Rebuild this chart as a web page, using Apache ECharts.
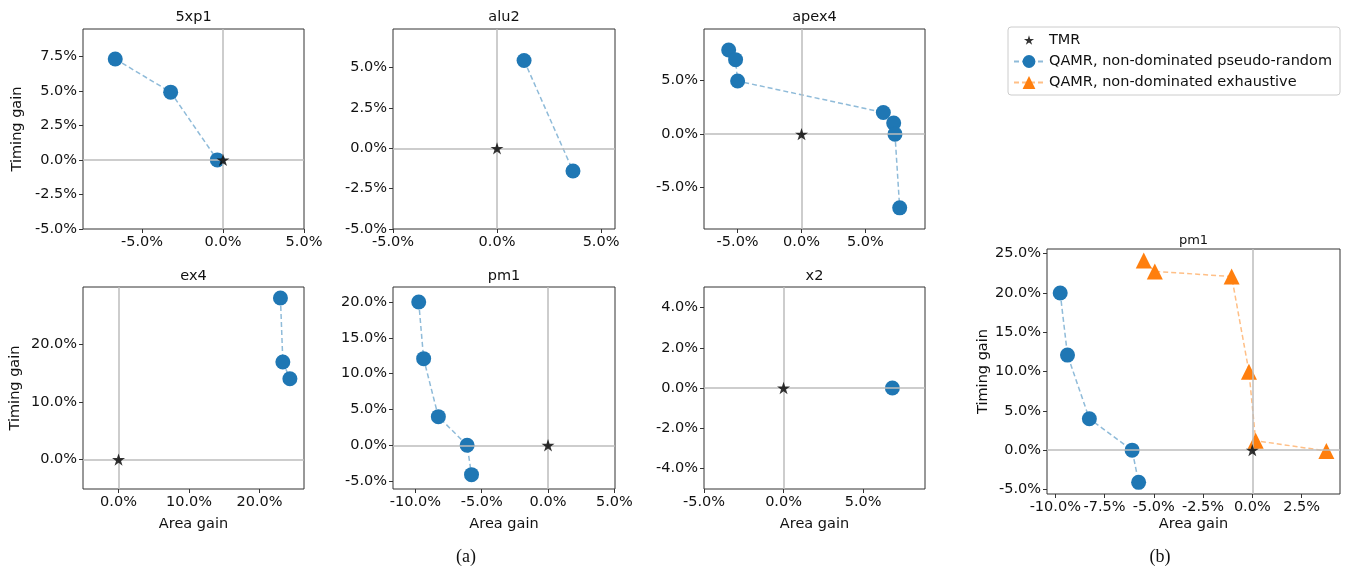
<!DOCTYPE html>
<html>
<head>
<meta charset="utf-8">
<script src="https://cdn.jsdelivr.net/npm/echarts@6/dist/echarts.min.js"></script>
<style>
html,body{margin:0;padding:0;background:#fff;}
#chart{width:1357px;height:571px;}
</style>
</head>
<body>
<div id="chart"></div>
<script>
// ---- Data (percent) ----
const area_5xp1 = [-6.65, -3.23, -0.35];
const timing_5xp1 = [7.3, 4.9, 0.0];
const area_alu2 = [1.3, 3.65];
const timing_alu2 = [5.45, -1.4];
const area_apex4 = [-5.7, -5.16, -5.0, 6.4, 7.21, 7.31, 7.68];
const timing_apex4 = [7.87, 6.97, 4.97, 2.03, 1.03, 0.0, -6.9];
const area_ex4 = [22.96, 23.3, 24.3];
const timing_ex4 = [28.0, 16.9, 14.0];
const area_pm1 = [-9.75, -9.38, -8.27, -6.1, -5.77];
const timing_pm1 = [20.0, 12.1, 4.0, 0.0, -4.1];
const area_x2 = [6.84];
const timing_x2 = [0.0];
const area_pm1_exh = [-5.51, -4.95, -1.05, -0.17, 0.17, 3.76];
const timing_pm1_exh = [24.15, 22.75, 22.1, 9.97, 1.2, -0.1];
const tmr_area = [0];
const tmr_timing = [0];

// ---- Tick labels ----
const xticks_5xp1 = [-5, 0, 5];
const yticks_5xp1 = [-5, -2.5, 0, 2.5, 5, 7.5];
const xticks_alu2 = [-5, 0, 5];
const yticks_alu2 = [-5, -2.5, 0, 2.5, 5];
const xticks_apex4 = [-5, 0, 5];
const yticks_apex4 = [-5, 0, 5];
const xticks_ex4 = [0, 10, 20];
const yticks_ex4 = [0, 10, 20];
const xticks_pm1 = [-10, -5, 0, 5];
const yticks_pm1 = [-5, 0, 5, 10, 15, 20];
const xticks_x2 = [-5, 0, 5];
const yticks_x2 = [-4, -2, 0, 2, 4];
const xticks_pm1b = [-10, -7.5, -5, -2.5, 0, 2.5];
const yticks_pm1b = [-5, 0, 5, 10, 15, 20, 25];

const NAME_TMR = 'TMR';
const NAME_RAND = 'QAMR, non-dominated pseudo-random';
const NAME_EXH = 'QAMR, non-dominated exhaustive';

const panels = [
  {title:'5xp1', area:area_5xp1, timing:timing_5xp1, xt:xticks_5xp1, yt:yticks_5xp1,
   grid:{left:83,top:29,width:221,height:200}, x:[-8.64,5], y:[-5,9.47], yName:58, xName:null, ty:17},
  {title:'alu2', area:area_alu2, timing:timing_alu2, xt:xticks_alu2, yt:yticks_alu2,
   grid:{left:393,top:29,width:222,height:200}, x:[-5,5.67], y:[-5,7.4], yName:null, xName:null, ty:17},
  {title:'apex4', area:area_apex4, timing:timing_apex4, xt:xticks_apex4, yt:yticks_apex4,
   grid:{left:704,top:29,width:221,height:200}, x:[-7.63,9.66], y:[-8.88,9.84], yName:null, xName:null, ty:17},
  {title:'ex4', area:area_ex4, timing:timing_ex4, xt:xticks_ex4, yt:yticks_ex4,
   grid:{left:83,top:287,width:221,height:202}, x:[-5.04,26.3], y:[-5.1,29.9], yName:60, xName:28, ty:276},
  {title:'pm1', area:area_pm1, timing:timing_pm1, xt:xticks_pm1, yt:yticks_pm1,
   grid:{left:393,top:287,width:222,height:202}, x:[-11.69,5.05], y:[-6.1,22.1], yName:null, xName:28, ty:276},
  {title:'x2', area:area_x2, timing:timing_x2, xt:xticks_x2, yt:yticks_x2,
   grid:{left:704,top:287,width:221,height:202}, x:[-5,8.89], y:[-5.03,5.03], yName:null, xName:28, ty:276},
  {title:'pm1', area:area_pm1, timing:timing_pm1, xt:xticks_pm1b, yt:yticks_pm1b,
   grid:{left:1047,top:249,width:293,height:245}, x:[-10.42,4.45], y:[-5.58,25.6], yName:55, xName:23, ty:241,
   exh:{area:area_pm1_exh, timing:timing_pm1_exh}, small:true}
];

const STAR_PTS = 'M100 0 L122.45 69.1 L195.1 69.1 L136.3 111.8 L158.8 180.9 L100 138.2 L41.2 180.9 L63.7 111.8 L4.9 69.1 L77.55 69.1 Z';
const STAR = 'path://' + STAR_PTS;
const STAR_SMALL = 'path://M-50 -60 L-49.8 -60 L-49.8 -59.8 Z ' + STAR_PTS + ' M250 240 L249.8 240 L249.8 239.8 Z';
const FONT = 'DejaVu Sans';
const fmt = v => (Math.round(v*10)/10).toFixed(1) + '%';
const zip = (a, b) => a.map((v, i) => [v, b[i]]);

const grids = [], xAxes = [], yAxes = [], series = [], graphics = [];

panels.forEach((p, i) => {
  grids.push(Object.assign({show:true, borderColor:'#333', borderWidth:1, backgroundColor:'#fff', containLabel:false}, p.grid));
  const axisCommon = (ticks) => ({
    type:'value', gridIndex:i,
    axisLine:{show:false, onZero:false}, splitLine:{show:false},
    axisTick:{show:true, customValues:ticks, length:4, inside:false, lineStyle:{color:'#333', width:1}},
    axisLabel:{customValues:ticks, formatter:fmt, fontSize:14.5, color:'#111', fontFamily:FONT, margin:6},
    nameLocation:'middle',
    nameTextStyle:{fontSize:14.5, color:'#111', fontFamily:FONT}
  });
  const xa = axisCommon(p.xt);
  xa.min = p.x[0]; xa.max = p.x[1];
  if (p.xName !== null) { xa.name = 'Area gain'; xa.nameGap = p.xName; }
  xAxes.push(xa);
  const ya = axisCommon(p.yt);
  ya.min = p.y[0]; ya.max = p.y[1];
  if (p.yName !== null) { ya.name = 'Timing gain'; ya.nameGap = p.yName; }
  yAxes.push(ya);

  // zero reference lines
  series.push({
    type:'line', xAxisIndex:i, yAxisIndex:i, data:[], silent:true, z:1,
    markLine:{symbol:'none', silent:true, animation:false, label:{show:false},
      lineStyle:{color:'#bdbdbd', width:1.5, type:'solid'},
      data:[{xAxis:0},{yAxis:0}]}
  });
  series.push({
    name:NAME_RAND, type:'line', xAxisIndex:i, yAxisIndex:i, z:3,
    data:zip(p.area, p.timing),
    symbol:'circle', symbolSize:15,
    itemStyle:{color:'#1f77b4'},
    lineStyle:{color:'rgba(31,119,180,0.5)', width:1.5, type:[5,3]},
    emphasis:{disabled:true}
  });
  if (p.exh) {
    series.push({
      name:NAME_EXH, type:'line', xAxisIndex:i, yAxisIndex:i, z:3,
      data:zip(p.exh.area, p.exh.timing),
      symbol:'triangle', symbolSize:16,
      itemStyle:{color:'#ff7f0e'},
      lineStyle:{color:'rgba(255,127,14,0.5)', width:1.5, type:[5,3]},
      emphasis:{disabled:true}
    });
  }
  series.push({
    name:NAME_TMR, type:'scatter', xAxisIndex:i, yAxisIndex:i, z:5,
    data:zip(tmr_area, tmr_timing),
    symbol:STAR, symbolSize:13, symbolKeepAspect:true,
    itemStyle:{color:'#000'},
    emphasis:{disabled:true}
  });

  graphics.push({
    type:'text', x:p.grid.left + p.grid.width/2, y:p.ty, silent:true,
    style:{text:p.title, fill:'#111', font:(p.small?'13px ':'14.5px ') + FONT, align:'center', verticalAlign:'middle'}
  });
});

graphics.push({type:'text', x:466, y:557, silent:true,
  style:{text:'(a)', fill:'#111', font:'18px "Liberation Serif"', align:'center', verticalAlign:'middle'}});
graphics.push({type:'text', x:1160, y:557, silent:true,
  style:{text:'(b)', fill:'#111', font:'18px "Liberation Serif"', align:'center', verticalAlign:'middle'}});

const chart = echarts.init(document.getElementById('chart'), null, {renderer:'canvas'});
chart.setOption({
  animation:false,
  backgroundColor:'#fff',
  grid:grids, xAxis:xAxes, yAxis:yAxes, series:series, graphic:graphics,
  legend:{
    orient:'vertical', left:1008, top:27,
    padding:[5,8,5,5], itemGap:6, itemWidth:30, itemHeight:16, itemTextGap:12,
    data:[{name:NAME_TMR, icon:STAR_SMALL, itemStyle:{color:'#000'}}, NAME_RAND, NAME_EXH],
    textStyle:{fontSize:14.5, color:'#111', fontFamily:FONT},
    borderColor:'#ccc', borderWidth:1, borderRadius:3, backgroundColor:'#fff',
    selectedMode:false
  }
});
</script>
</body>
</html>
